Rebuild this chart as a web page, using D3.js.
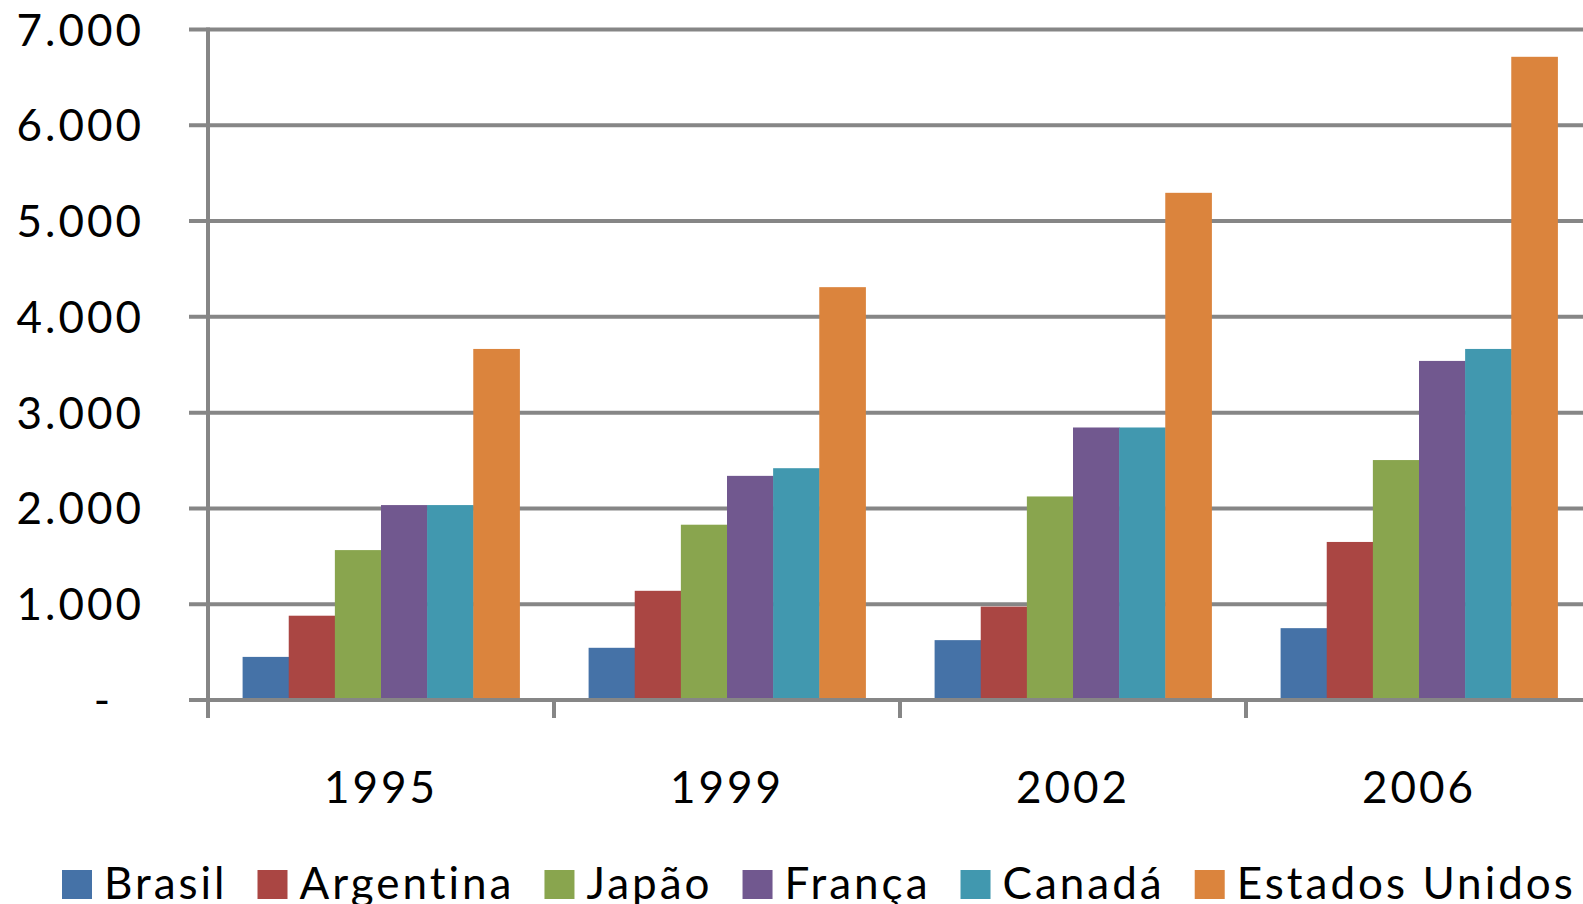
<!DOCTYPE html>
<html>
<head>
<meta charset="utf-8">
<script src="https://cdn.jsdelivr.net/npm/d3@7/dist/d3.min.js"></script>
<style>
    html, body { margin: 0; padding: 0; background: #fff; overflow: hidden; }
    svg { display: block; }
    text { font-family: Lato, "Noto Sans", sans-serif; fill: #000; }
</style>
</head>
<body>
<svg class="chart" width="1583" height="904"></svg>
<script>
(function (window) {
    'use strict';

    var years = ['1995', '1999', '2002', '2006'];
    var countries = ['Brasil', 'Argentina', 'Japão', 'França', 'Canadá', 'Estados Unidos'];
    var colors = ['#4572A7', '#AA4643', '#89A54E', '#71588F', '#4198AF', '#DB843D'];

    var brasil = [450, 545, 625, 750];
    var argentina = [880, 1140, 975, 1650];
    var japao = [1565, 1830, 2125, 2505];
    var franca = [2035, 2340, 2845, 3540];
    var canada = [2035, 2420, 2845, 3665];
    var estadosUnidos = [3665, 4310, 5295, 6715];

    var yTicks = [0, 1000, 2000, 3000, 4000, 5000, 6000, 7000];

    var seriesValues = [brasil, argentina, japao, franca, canada, estadosUnidos];

    var svg = d3.select('.chart');
    var gray = '#868686';
    var left = 208, right = 208 + 4 * 346, top = 29.5, bottom = 700;

    var x0 = d3.scaleBand().domain(years).range([left, right]).paddingInner(0).paddingOuter(0);
    var x1 = d3.scaleBand().domain(countries).range([0, x0.bandwidth()])
        .paddingInner(0).paddingOuter(0.75);
    var y = d3.scaleLinear().domain([0, 7000]).range([bottom, top]);

    var fmt = function (d) {
        if (d === 0) { return '-'; }
        return d3.format(',')(d).replace(/,/g, '.');
    };

    // gridlines (with the small outward tick on the left)
    svg.append('g').selectAll('line')
        .data(yTicks)
        .enter()
        .append('line')
        .attr('x1', left - 19)
        .attr('x2', right)
        .attr('y1', function (d) { return y(d); })
        .attr('y2', function (d) { return y(d); })
        .attr('stroke', gray)
        .attr('stroke-width', 4);

    // bars
    var groups = svg.append('g').selectAll('g')
        .data(years)
        .enter()
        .append('g')
        .attr('transform', function (d) { return 'translate(' + x0(d) + ',0)'; });

    groups.selectAll('rect')
        .data(function (d, i) {
            return countries.map(function (c, j) {
                return {country: c, value: seriesValues[j][i], color: colors[j]};
            });
        })
        .enter()
        .append('rect')
        .attr('x', function (d) { return x1(d.country); })
        .attr('width', x1.bandwidth() + 0.5)
        .attr('y', function (d) { return y(d.value); })
        .attr('height', function (d) { return bottom - y(d.value); })
        .attr('fill', function (d) { return d.color; });

    // baseline over the bars
    svg.append('line')
        .attr('x1', left).attr('x2', right)
        .attr('y1', y(0)).attr('y2', y(0))
        .attr('stroke', gray).attr('stroke-width', 4);

    // vertical axis
    svg.append('line')
        .attr('x1', left).attr('x2', left)
        .attr('y1', top - 2).attr('y2', bottom + 18)
        .attr('stroke', gray).attr('stroke-width', 4);

    // category ticks
    svg.append('g').selectAll('line')
        .data(years)
        .enter()
        .append('line')
        .attr('x1', function (d) { return x0(d) + x0.bandwidth(); })
        .attr('x2', function (d) { return x0(d) + x0.bandwidth(); })
        .attr('y1', bottom)
        .attr('y2', bottom + 18)
        .attr('stroke', gray)
        .attr('stroke-width', 4);

    // y labels
    svg.append('g').selectAll('text')
        .data(yTicks)
        .enter()
        .append('text')
        .text(fmt)
        .attr('x', function (d) { return d === 0 ? 113 : 144; })
        .attr('y', function (d) { return y(d) + 16; })
        .attr('text-anchor', 'end')
        .attr('font-size', 44)
        .attr('letter-spacing', 3);

    // x labels
    svg.append('g').selectAll('text')
        .data(years)
        .enter()
        .append('text')
        .text(function (d) { return d; })
        .attr('x', function (d) { return x0(d) + x0.bandwidth() / 2; })
        .attr('y', 803)
        .attr('text-anchor', 'middle')
        .attr('font-size', 44)
        .attr('letter-spacing', 3);

    // legend
    var legend = svg.append('g');
    var lx = 62;
    countries.forEach(function (c, i) {
        legend.append('rect')
            .attr('x', lx)
            .attr('y', 870)
            .attr('width', 30)
            .attr('height', 29)
            .attr('fill', colors[i]);
        var t = legend.append('text')
            .text(c)
            .attr('x', lx + 42)
            .attr('y', 899)
            .attr('font-size', 44)
            .attr('letter-spacing', 3);
        lx = lx + 42 + t.node().getComputedTextLength() + 30;
    });

})(window);
</script>
</body>
</html>
